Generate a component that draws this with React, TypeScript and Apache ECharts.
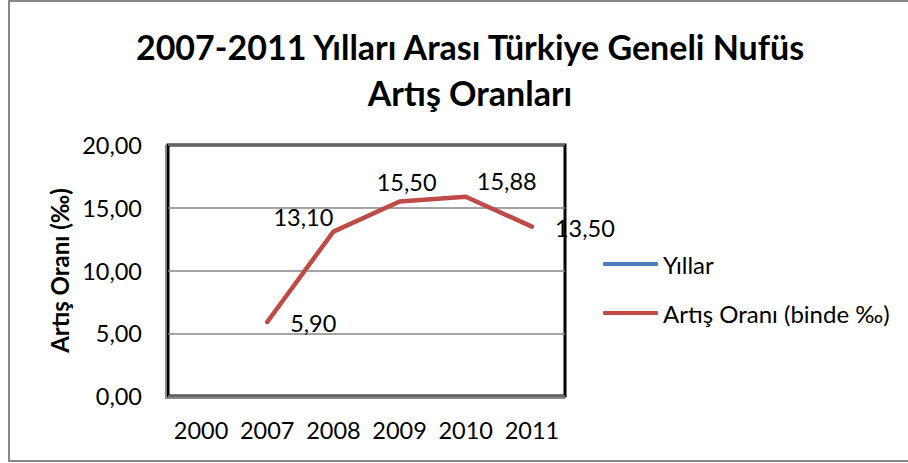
import React, { useEffect, useRef } from "react";
import * as echarts from "echarts";

const categories = ["2000", "2007", "2008", "2009", "2010", "2011"];
const yillarValues: (number | null)[] = [null, null, null, null, null, null];
const artisValues: (number | null)[] = [null, 5.9, 13.1, 15.5, 15.88, 13.5];
const labelOffsets: number[][] = [[0, 0], [46, 1], [-30, -15], [7, -19], [41, -16], [53, 1]];
const yTicks = { min: 0, max: 20, interval: 5 };

const FONT = "Lato, 'Open Sans', sans-serif";

export default function App() {
  const ref = useRef<HTMLDivElement>(null);
  useEffect(() => {
    if (!ref.current) return;
    const chart = echarts.init(ref.current, undefined, { renderer: "svg" });
    const fmt = (v: number) => v.toFixed(2).replace(".", ",");
    chart.setOption({
      animation: false,
      backgroundColor: "#fff",
      textStyle: { fontFamily: FONT, color: "#000" },
      graphic: [
        {
          type: "rect",
          shape: { x: 9, y: 1, width: 906, height: 460 },
          style: { fill: "none", stroke: "#888", lineWidth: 2 },
          silent: true,
        },
        {
          type: "polyline",
          shape: { points: [[166, 145], [166, 398], [565, 398]] },
          style: { fill: "none", stroke: "#888", lineWidth: 2 },
          silent: true,
          z: 10,
        },
      ],
      title: {
        text: "2007-2011 Yılları Arası Türkiye Geneli Nufüs\nArtış Oranları",
        left: 465,
        top: 18,
        textAlign: "center",
        textStyle: {
          fontFamily: FONT,
          fontSize: 34,
          fontWeight: "bold",
          color: "#000",
          lineHeight: 46,
        },
      },
      legend: {
        orient: "vertical",
        left: 598,
        top: 247,
        itemWidth: 55,
        itemHeight: 4,
        itemGap: 25,
        icon: "roundRect",
        textStyle: { fontFamily: FONT, fontSize: 24, lineHeight: 24, color: "#000" },
        data: ["Yıllar", "Artış Oranı (binde ‰)"],
      },
      grid: {
        left: 168,
        right: 343,
        top: 145,
        bottom: 67,
        show: true,
        borderColor: "#000",
        borderWidth: 3,
        backgroundColor: "#fff",
      },
      xAxis: {
        type: "category",
        data: categories,
        boundaryGap: true,
        axisLine: { show: false },
        axisTick: { show: false },
        axisLabel: {
          fontFamily: FONT,
          fontSize: 23.5,
          color: "#000",
          margin: 22,
          interval: 0,
          hideOverlap: false,
        },
      },
      yAxis: {
        type: "value",
        min: yTicks.min,
        max: yTicks.max,
        interval: yTicks.interval,
        name: "Artış Oranı (‰)",
        nameLocation: "middle",
        nameGap: 97,
        nameTextStyle: { fontFamily: FONT, fontSize: 24, fontWeight: "bold", color: "#000" },
        axisLine: { show: false },
        axisTick: { show: false },
        axisLabel: {
          fontFamily: FONT,
          fontSize: 23.5,
          color: "#000",
          margin: 26,
          formatter: (v: number) => fmt(v),
        },
        splitLine: { lineStyle: { color: "#868686", width: 1.5 } },
      },
      series: [
        {
          name: "Yıllar",
          type: "line",
          data: yillarValues,
          color: "#4a7ebb",
          lineStyle: { width: 4, color: "#4a7ebb" },
          symbol: "none",
        },
        {
          name: "Artış Oranı (binde ‰)",
          type: "line",
          color: "#be4b48",
          lineStyle: { width: 4.5, color: "#be4b48", cap: "round", join: "round" },
          symbol: "circle",
          symbolSize: 0.1,
          itemStyle: { color: "#be4b48" },
          data: artisValues.map((v, i) =>
            v === null
              ? null
              : {
                  value: v,
                  label: {
                    show: true,
                    position: "inside",
                    offset: labelOffsets[i],
                    formatter: () => fmt(v),
                    fontFamily: FONT,
                    fontSize: 23.5,
                    color: "#000",
                  },
                }
          ),
        },
      ],
    });
    return () => chart.dispose();
  }, []);
  return (
    <div
      ref={ref}
      style={{ position: "absolute", left: 0, top: 0, width: 908, height: 463 }}
    />
  );
}
